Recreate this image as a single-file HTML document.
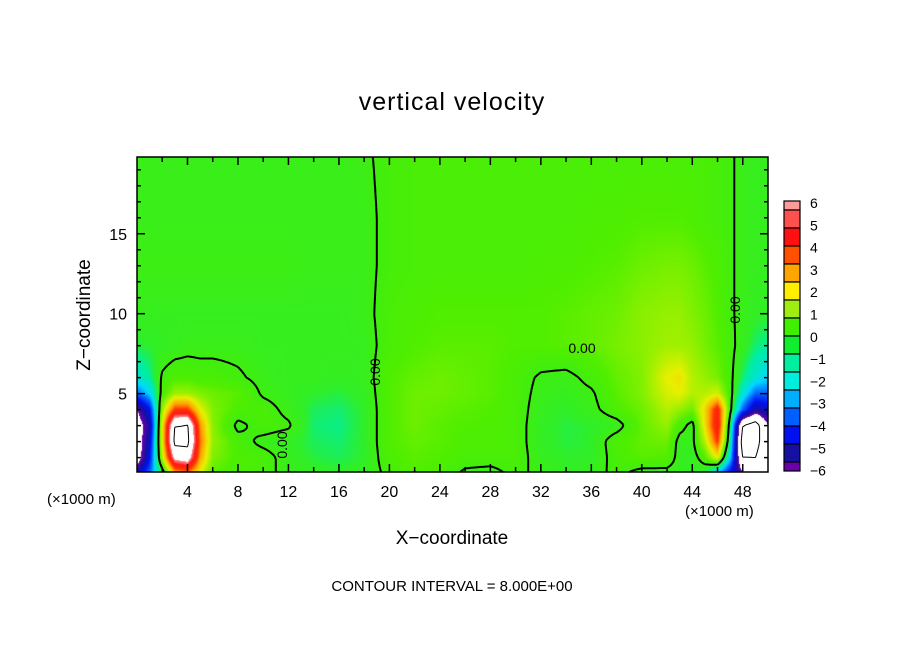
<!DOCTYPE html>
<html><head><meta charset="utf-8"><style>
body{margin:0;background:#fff;width:904px;height:654px;overflow:hidden;position:relative;font-family:"Liberation Sans",sans-serif}
.t{position:absolute;white-space:nowrap;color:#000}
</style></head><body>
<div class="t" style="left:0;width:904px;text-align:center;top:88px;font-size:25px;letter-spacing:1px">vertical velocity</div>
<div class="t" style="left:85px;top:315px;font-size:19px;transform:translate(-50%,-50%) rotate(-90deg)">Z−coordinate</div>
<div class="t" style="left:0;width:904px;text-align:center;top:528px;font-size:19px">X−coordinate</div>
<div class="t" style="left:47px;top:491px;font-size:15px">(×1000 m)</div>
<div class="t" style="left:685px;top:503px;font-size:15px">(×1000 m)</div>
<div class="t" style="left:0;width:904px;text-align:center;top:578px;font-size:15px">CONTOUR INTERVAL = 8.000E+00</div>
<canvas id="cv" width="631" height="315" style="position:absolute;left:137px;top:157px"></canvas>
<svg id="sv" width="904" height="654" style="position:absolute;left:0;top:0"></svg>
<script>
const xs=[0,1,2,3,4,5,6,8,10,12,14,16,18,20,22,24,26,28,30,32,34,36,38,40,42,43,44,45,46,47,48,49,50];
const zs=[0.1,1,2,3,4,5,6,8,10,13,16,20];
const row0=[-5,-3,-0.5,3,3.5,2,0.6,0.3,0.2,-0.2,-0.4,-0.5,-0.4,0.2,0.5,0.4,-0.1,-0.2,0.2,-0.2,-0.4,-0.3,0.2,-0.2,-0.2,-0.3,-0.4,-0.6,-2,-4,-6,-7,-6];
const row1=[-7,-4,1.5,6.5,7,3,1,0.4,0.3,-0.3,-0.6,-0.7,-0.5,0.4,0.6,0.5,0.3,0.3,0.3,-0.3,-0.5,-0.5,0.3,0.6,0.5,-0.3,-0.4,0.5,2,-2,-8,-8,-6];
const row2=[-7,-4.5,2,8.5,8.5,3.5,1.2,0.3,-0.2,-0.4,-0.7,-0.8,-0.5,0.5,0.7,0.6,0.4,0.4,0.3,-0.4,-0.6,-0.5,0.4,0.7,0.8,-0.3,-0.2,1.5,4,-1,-9,-9,-6];
const row3=[-7,-5,2,8,8.2,3.2,1.1,-0.2,0.3,0.1,-0.8,-0.9,-0.5,0.5,0.8,0.6,0.5,0.4,0.3,-0.4,-0.6,-0.5,-0.3,0.7,1.2,0.3,-0.3,2.2,4.8,-0.6,-8,-9,-6];
const row4=[-6,-4,1.2,4,4,2,1,0.4,0.3,-0.2,-0.7,-0.8,-0.5,0.5,0.8,0.7,0.6,0.5,0.3,-0.3,-0.5,-0.2,0.4,0.8,1.5,1.2,0.8,2.3,4.5,0.3,-3,-5,-4.5];
const row5=[-3,-2,0.3,1.3,1.3,1,0.8,0.6,-0.1,-0.3,-0.5,-0.6,-0.4,0.5,0.8,0.8,0.7,0.6,0.3,-0.2,-0.3,-0.1,0.6,1,1.8,2,1.5,1.5,1.8,0.3,-1.5,-3,-3];
const row6=[-1.5,-1,0.1,0.4,0.4,0.3,0.3,0.1,-0.2,-0.3,-0.3,-0.4,-0.3,0.5,0.7,0.8,0.7,0.6,0.3,-0.1,-0.2,0.2,0.7,1,2,2.2,1.5,1.2,0.9,0.2,-0.8,-1.5,-2];
const row8=[-0.6,-0.5,-0.4,-0.3,-0.2,-0.2,-0.2,-0.2,-0.3,-0.3,-0.3,-0.3,-0.3,0.3,0.5,0.6,0.6,0.6,0.5,0.5,0.6,0.7,0.9,1.1,1.3,1.3,1.2,0.9,0.6,0.2,-0.3,-0.8,-1];
const row10=[-0.3,-0.3,-0.3,-0.3,-0.3,-0.3,-0.3,-0.3,-0.3,-0.3,-0.3,-0.3,-0.2,0.3,0.4,0.5,0.5,0.5,0.5,0.5,0.6,0.7,0.8,1.1,1.2,1.2,1,0.8,0.5,0.1,-0.2,-0.4,-0.5];
const row13=[-0.1,-0.1,-0.1,-0.1,-0.1,-0.1,-0.1,-0.1,-0.1,-0.1,-0.2,-0.2,-0.2,0.2,0.3,0.3,0.3,0.3,0.3,0.4,0.4,0.5,0.6,0.8,0.9,0.9,0.8,0.6,0.4,0.1,-0.2,-0.3,-0.3];
const row16=[-0.2,-0.2,-0.2,-0.2,-0.2,-0.2,-0.2,-0.2,-0.2,-0.2,-0.2,-0.2,-0.2,0.2,0.3,0.3,0.3,0.3,0.3,0.3,0.3,0.4,0.4,0.5,0.5,0.5,0.4,0.3,0.2,0.1,-0.2,-0.3,-0.3];
const row20=[-0.2,-0.2,-0.2,-0.2,-0.2,-0.2,-0.2,-0.2,-0.2,-0.2,-0.2,-0.2,-0.1,0.2,0.3,0.3,0.3,0.3,0.3,0.3,0.3,0.3,0.3,0.3,0.3,0.3,0.3,0.3,0.2,0.1,-0.2,-0.3,-0.3];
const grid=[row0,row1,row2,row3,row4,row5,row6,row8,row10,row13,row16,row20];
const cbLabels=[6,5,4,3,2,1,0,-1,-2,-3,-4,-5,-6];
const cbColors=['#ff9a9a','#ff5050','#ff1010','#ff5000','#ffa500','#ffee00','#a0ee10','#40f000','#10ee30','#00eea0','#00eedd','#00b0ff','#0060ff','#0010f0','#1510a0','#6a00aa'];
const anchorVals=[-6,-5,-4,-3,-2,-1,-0.5,0,0.5,1,2,3,4,5,6];
const anchorCols=['#6a00aa','#1510a0','#0010f0','#0060ff','#00d8ff','#00eea0','#30ee28','#40ee10','#50ee00','#80f000','#e8f000','#ffa500','#ff3000','#ff1818','#ff9a9a'];
const xTicks=[4,8,12,16,20,24,28,32,36,40,44,48];
const zTicks=[5,10,15];

const PX0=137,PX1=768,PY0=157,PY1=472,XMIN=0,XMAX=50,ZMIN=0.1,ZMAX=19.8;
const sx=x=>PX0+(x-XMIN)/(XMAX-XMIN)*(PX1-PX0);
const sy=z=>PY1-(z-ZMIN)/(ZMAX-ZMIN)*(PY1-PY0);
function idx(a,v){let i=0;while(i<a.length-2&&v>a[i+1])i++;return i;}
function val(x,z){const i=idx(xs,x),j=idx(zs,z);
 let tx=(x-xs[i])/(xs[i+1]-xs[i]),tz=(z-zs[j])/(zs[j+1]-zs[j]);
 tx=Math.max(0,Math.min(1,tx));tz=Math.max(0,Math.min(1,tz));
 const a=grid[j][i],b=grid[j][i+1],c=grid[j+1][i],d=grid[j+1][i+1];
 return (a*(1-tx)+b*tx)*(1-tz)+(c*(1-tx)+d*tx)*tz;}
const hx=h=>[parseInt(h.slice(1,3),16),parseInt(h.slice(3,5),16),parseInt(h.slice(5,7),16)];
const AC=anchorCols.map(hx);
function col(v){if(v>6||v<-6)return[255,255,255];
 let k=0;while(k<anchorVals.length-2&&v>anchorVals[k+1])k++;
 const t=(v-anchorVals[k])/(anchorVals[k+1]-anchorVals[k]);
 return AC[k].map((c,n)=>Math.round(c*(1-t)+AC[k+1][n]*t));}
const cv=document.getElementById('cv'),ctx=cv.getContext('2d');
const W=cv.width,H=cv.height,img=ctx.createImageData(W,H);
for(let py=0;py<H;py++){const z=ZMAX-(py+0.5)/H*(ZMAX-ZMIN);
 for(let px=0;px<W;px++){const x=XMIN+(px+0.5)/W*(XMAX-XMIN);const c=col(val(x,z));const o=(py*W+px)*4;
  img.data[o]=c[0];img.data[o+1]=c[1];img.data[o+2]=c[2];img.data[o+3]=255;}}
ctx.putImageData(img,0,0);

const NS='http://www.w3.org/2000/svg',sv=document.getElementById('sv');
function mk(t,a,p){const e=document.createElementNS(NS,t);for(const k in a)e.setAttribute(k,a[k]);(p||sv).appendChild(e);return e;}
function contour(level,name,w,dash){
 const nx=200,nz=100;let d='';
 const gx=i=>XMIN+i*(XMAX-XMIN)/nx,gz=j=>ZMIN+j*(ZMAX-ZMIN)/nz;
 const F=[];for(let j=0;j<=nz;j++){F.push([]);for(let i=0;i<=nx;i++)F[j].push(val(gx(i),gz(j))-level);}
 for(let j=0;j<nz;j++)for(let i=0;i<nx;i++){
  const c=[[gx(i),gz(j),F[j][i]],[gx(i+1),gz(j),F[j][i+1]],[gx(i+1),gz(j+1),F[j+1][i+1]],[gx(i),gz(j+1),F[j+1][i]]];
  const p=[];for(let k=0;k<4;k++){const A=c[k],B=c[(k+1)%4];if((A[2]<0)!==(B[2]<0)){const t=A[2]/(A[2]-B[2]);p.push([A[0]+t*(B[0]-A[0]),A[1]+t*(B[1]-A[1])]);}}
  for(let k=0;k+1<p.length;k+=2)d+='M'+sx(p[k][0]).toFixed(1)+' '+sy(p[k][1]).toFixed(1)+'L'+sx(p[k+1][0]).toFixed(1)+' '+sy(p[k+1][1]).toFixed(1);}
 const e=mk('path',{d:d,fill:'none',stroke:'#000','stroke-width':w});
 if(dash)e.setAttribute('stroke-dasharray',dash);
 
 }
contour(0,'contour-zero',2,null);
contour(8,'contour-plus-8',1,null);
contour(-8,'contour-minus-8',1,'5,4');
[[287,445,-90],[380,372,-90],[740,310,-90],[582,353,0]].forEach(l=>{
 const t=mk('text',{x:l[0],y:l[1],'font-size':14,'font-family':'Liberation Sans, sans-serif','text-anchor':'middle',transform:'rotate('+l[2]+' '+l[0]+' '+l[1]+')',fill:'#000'});
 t.textContent='0.00';
 
 });
const fr=mk('rect',{x:PX0,y:PY0,width:PX1-PX0,height:PY1-PY0,fill:'none',stroke:'#000','stroke-width':1.5});


for(let x=2;x<50;x+=2){const maj=x%4===0,L=maj?8:5;
 const t1=mk('line',{x1:sx(x),x2:sx(x),y1:PY1,y2:PY1-L,stroke:'#000','stroke-width':1.5});
 
 
 const t2=mk('line',{x1:sx(x),x2:sx(x),y1:PY0,y2:PY0+L,stroke:'#000','stroke-width':1.5});
 
 }
xTicks.forEach(x=>{const t=mk('text',{x:sx(x),y:497,'font-size':16,'font-family':'Liberation Sans, sans-serif','text-anchor':'middle'});t.textContent=x;
 
 });
for(let z=1;z<20;z++){const maj=z%5===0,L=maj?8:4;
 const t1=mk('line',{x1:PX0,x2:PX0+L,y1:sy(z),y2:sy(z),stroke:'#000','stroke-width':1.5});
 
 
 const t2=mk('line',{x1:PX1,x2:PX1-L,y1:sy(z),y2:sy(z),stroke:'#000','stroke-width':1.5});
 
 }
zTicks.forEach(z=>{const t=mk('text',{x:127,y:sy(z)+6,'font-size':16,'font-family':'Liberation Sans, sans-serif','text-anchor':'end'});t.textContent=z;
 
 });
let cy=201;cbColors.forEach((c,k)=>{const h=(k===0||k===cbColors.length-1)?9:18;
 const r=mk('rect',{x:784,y:cy,width:16,height:h,fill:c,stroke:'#000','stroke-width':1.2});
 
 cy+=h;});
cbLabels.forEach(v=>{const t=mk('text',{x:810,y:203+(6-v)*22.3+5,'font-size':14,'font-family':'Liberation Sans, sans-serif'});t.textContent=(v<0?'−':'')+Math.abs(v);
 
 });
</script>
</body></html>
